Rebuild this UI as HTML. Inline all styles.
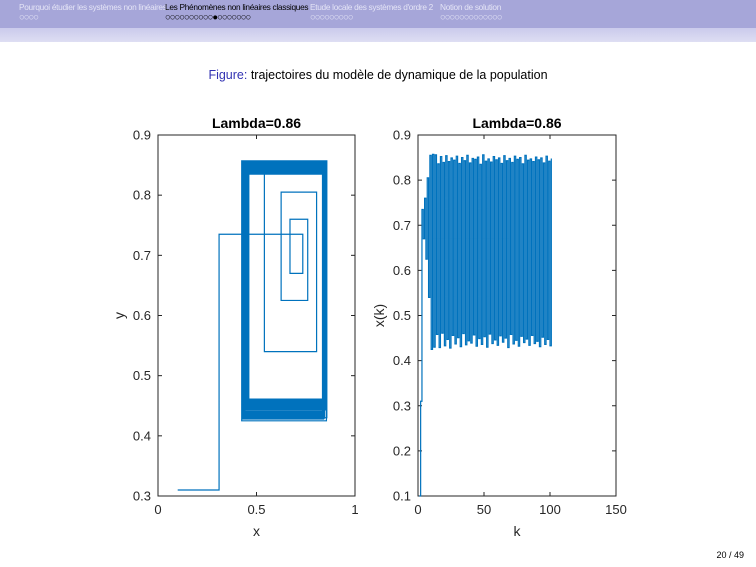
<!DOCTYPE html>
<html><head><meta charset="utf-8">
<style>
body{margin:0;width:756px;height:567px;overflow:hidden;background:#fff;font-family:"Liberation Sans",sans-serif;position:relative}
.hdr{position:absolute;left:0;top:0;width:756px;height:28px;background:#a6a6d9}
.hdr2{position:absolute;left:0;top:28px;width:756px;height:14px;background:linear-gradient(#cacaec,#dedef3)}
.sec{position:absolute;top:2px;font-size:8.3px;color:#e4e4f6;line-height:10px;white-space:nowrap;letter-spacing:-0.3px}
.sec.cur{color:#000}
.dots{font-size:9.5px;letter-spacing:-1px}
</style></head>
<body>
<div class="hdr"></div>
<div class="hdr2"></div>
<div class="sec" style="left:19px">Pourquoi étudier les systèmes non linéaires<br><span class="dots">○○○○</span></div>
<div class="sec cur" style="left:165px">Les Phénomènes non linéaires classiques<br><span class="dots">○○○○○○○○○○●○○○○○○○</span></div>
<div class="sec" style="left:310px">Etude locale des systèmes d'ordre 2<br><span class="dots">○○○○○○○○○</span></div>
<div class="sec" style="left:440px">Notion de solution<br><span class="dots">○○○○○○○○○○○○○</span></div>
<div style="position:absolute;left:0;width:756px;top:68px;text-align:center;font-size:12.5px"><span style="color:#3333b3">Figure:</span> trajectoires du modèle de dynamique de la population</div>
<div style="position:absolute;right:12px;top:550px;font-size:9px">20 / 49</div>
<svg id="chart" width="756" height="567" style="position:absolute;left:0;top:0"></svg>
<script>
const xs = [0.1,0.31,0.735,0.67,0.76,0.625,0.805,0.54,0.855,0.425,0.857,0.43,0.856,0.458,0.836,0.429,0.852,0.461,0.839,0.433,0.854,0.447,0.841,0.428,0.849,0.456,0.844,0.437,0.853,0.451,0.837,0.431,0.85,0.46,0.843,0.435,0.855,0.444,0.838,0.439,0.848,0.457,0.846,0.432,0.851,0.449,0.835,0.436,0.856,0.453,0.842,0.43,0.847,0.459,0.84,0.438,0.852,0.446,0.845,0.434,0.849,0.455,0.837,0.441,0.854,0.45,0.843,0.429,0.848,0.458,0.839,0.437,0.853,0.445,0.846,0.432,0.85,0.454,0.836,0.44,0.855,0.448,0.844,0.434,0.847,0.456,0.841,0.438,0.851,0.443,0.845,0.431,0.849,0.452,0.838,0.436,0.853,0.447,0.842,0.433,0.848];
const leftXTicks = [0,0.5,1];
const leftYTicks = [0.3,0.4,0.5,0.6,0.7,0.8,0.9];
const rightXTicks = [0,50,100,150];
const rightYTicks = [0.1,0.2,0.3,0.4,0.5,0.6,0.7,0.8,0.9];
const titles = ["Lambda=0.86","Lambda=0.86"];

const svg = document.getElementById('chart');
const NS = 'http://www.w3.org/2000/svg';
function mk(tag, attrs, parent){const e=document.createElementNS(NS,tag);for(const k in attrs)e.setAttribute(k,attrs[k]);(parent||svg).appendChild(e);return e;}

function axes(px0,px1,py0,py1,xmin,xmax,ymin,ymax,xt,yt,title,xl,yl,ylx,name){
  const g = mk('g',{});
  
  
  const sx=v=>px0+(v-xmin)/(xmax-xmin)*(px1-px0);
  const sy=v=>py0-(v-ymin)/(ymax-ymin)*(py0-py1);
  const box=mk('rect',{x:px0,y:py1,width:px1-px0,height:py0-py1,fill:'none',stroke:'#262626','stroke-width':1},g);
  
  
  xt.forEach(v=>{const x=sx(v);
    mk('line',{x1:x,x2:x,y1:py0,y2:py0-4,stroke:'#262626'},g);
    mk('line',{x1:x,x2:x,y1:py1,y2:py1+4,stroke:'#262626'},g);
    const t=mk('text',{x:x,y:py0+18,'text-anchor':'middle','font-size':13,fill:'#262626'},g);t.textContent=v;
    
    
  });
  yt.forEach(v=>{const y=sy(v);
    mk('line',{x1:px0,x2:px0+4,y1:y,y2:y,stroke:'#262626'},g);
    mk('line',{x1:px1,x2:px1-4,y1:y,y2:y,stroke:'#262626'},g);
    const t=mk('text',{x:px0-7,y:y+4.5,'text-anchor':'end','font-size':13,fill:'#262626'},g);t.textContent=v;
    
    
  });
  const tt=mk('text',{x:(px0+px1)/2,y:py1-7,'text-anchor':'middle','font-size':14,'font-weight':'bold',fill:'#000'},g);tt.textContent=title;
  
  
  const xlab=mk('text',{x:(px0+px1)/2,y:py0+40,'text-anchor':'middle','font-size':14,fill:'#262626'},g);xlab.textContent=xl;
  
  
  const ylab=mk('text',{x:0,y:0,'text-anchor':'middle','font-size':14,fill:'#262626',transform:`translate(${ylx},${(py0+py1)/2}) rotate(-90)`},g);ylab.textContent=yl;
  
  
  return {sx,sy,g};
}

// Left: cobweb-style stair plot of (x_k, x_{k+1})
const L = axes(158,355,496,135,0,1,0.3,0.9,leftXTicks,leftYTicks,titles[0],'x','y',124,'left-plot');
let d='';
for(let k=0;k<xs.length-1;k++){
  const p1=[L.sx(xs[k]),L.sy(xs[k+1])];
  d+=(k===0?'M':'L')+p1[0].toFixed(2)+','+p1[1].toFixed(2);
  if(k<xs.length-2){d+='L'+L.sx(xs[k+1]).toFixed(2)+','+p1[1].toFixed(2);}
}
const lp=mk('path',{d:d,fill:'none',stroke:'#0072bd','stroke-width':1.2});



// Right: stairs of x(k)
const R = axes(418,616,496,135,0,150,0.1,0.9,rightXTicks,rightYTicks,titles[1],'k','x(k)',384,'right-plot');
let d2='';
for(let k=0;k<xs.length;k++){
  const kk=k+1;
  const y=R.sy(xs[k]).toFixed(2);
  d2+=(k===0?'M':'L')+R.sx(kk).toFixed(2)+','+y;
  if(k<xs.length-1) d2+='L'+R.sx(kk+1).toFixed(2)+','+y;
}
const rp=mk('path',{d:d2,fill:'none',stroke:'#0072bd','stroke-width':1.2});


</script>
</body></html>
